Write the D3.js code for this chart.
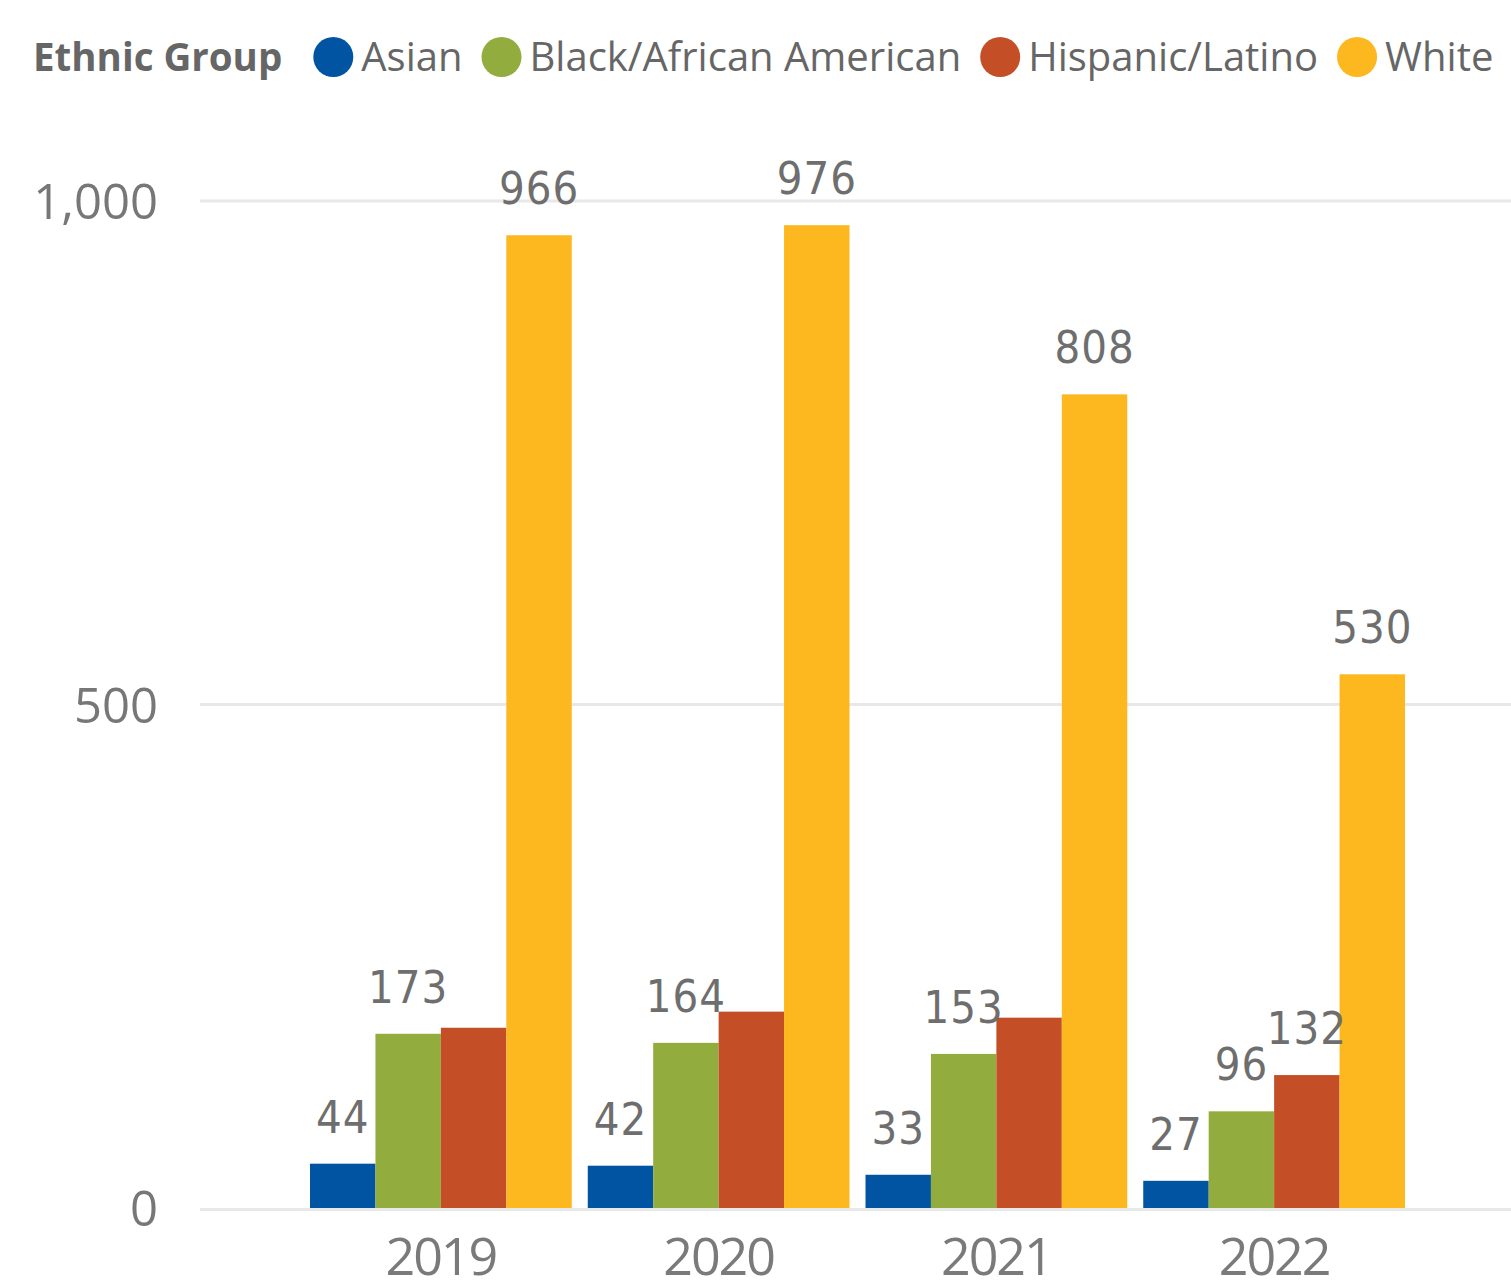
<!DOCTYPE html>
<html>
<head>
<meta charset="utf-8">
<script src="https://cdn.jsdelivr.net/npm/d3@7"></script>
<style>
  html, body { margin: 0; padding: 0; background: #fff; }
  svg { display: block; }
</style>
</head>
<body>
<svg id="chart" width="1511" height="1287"></svg>
<script>
// Yearly counts by ethnic group
const years = ["2019", "2020", "2021", "2022"];
const groups = ["Asian", "Black/African American", "Hispanic/Latino", "White"];
const asian = [44, 42, 33, 27];
const black = [173, 164, 153, 96];
const hispanic = [179, 195, 189, 132];
const white = [966, 976, 808, 530];
// Value labels suppressed where they would collide with a neighbour
const hiddenLabels = [["Hispanic/Latino", "2019"], ["Hispanic/Latino", "2020"], ["Hispanic/Latino", "2021"]];
const yTicks = [0, 500, 1000];
const colors = ["#0054A2", "#93AC3E", "#C44F27", "#FDB71F"];

const seriesValues = [asian, black, hispanic, white];
const rows = [];
years.forEach((yr, i) => {
  groups.forEach((g, j) => rows.push({ year: yr, group: g, value: seriesValues[j][i] }));
});
const isHidden = d => hiddenLabels.some(([g, y]) => g === d.group && y === d.year);

const svg = d3.select("#chart");
const numFont = "'DejaVu Sans Condensed', 'Liberation Sans Narrow', sans-serif";
const uiFont = "'Open Sans', 'Noto Sans', sans-serif";

const y = d3.scaleLinear().domain([0, 1000]).range([1208, 201]);
const x0 = d3.scaleBand().domain(years).range([302, 1413]).paddingInner(0.0576).paddingOuter(0.0288);
const x1 = d3.scaleBand().domain(groups).range([0, x0.bandwidth()]);
const color = d3.scaleOrdinal().domain(groups).range(colors);

// Value axis labels
const yAxis = d3.axisLeft(y).tickValues(yTicks).tickFormat(d3.format(",")).tickSize(0).tickPadding(0);
const gy = svg.append("g").attr("transform", "translate(158,0)").call(yAxis);
gy.select(".domain").remove();
gy.selectAll("text")
  .attr("x", 0)
  .attr("dy", "0.36em")
  .attr("text-anchor", "end")
  .style("font-family", uiFont)
  .style("font-size", "49px")
  .style("fill", "#777777");

// Horizontal gridlines
svg.append("g").selectAll("line")
  .data(yTicks)
  .join("line")
  .attr("x1", 200).attr("x2", 1511)
  .attr("y1", d => y(d) + (d === 0 ? 1.5 : 0)).attr("y2", d => y(d) + (d === 0 ? 1.5 : 0))
  .attr("stroke", "#e8e8e8")
  .attr("stroke-width", 3);

// Bars
svg.append("g").selectAll("rect")
  .data(rows)
  .join("rect")
  .attr("x", d => x0(d.year) + x1(d.group))
  .attr("width", x1.bandwidth())
  .attr("y", d => y(d.value))
  .attr("height", d => y(0) - y(d.value))
  .attr("fill", d => color(d.group));

// Value labels above bars
svg.append("g").selectAll("text")
  .data(rows.filter(d => !isHidden(d)))
  .join("text")
  .attr("x", d => x0(d.year) + x1(d.group) + x1.bandwidth() / 2)
  .attr("y", d => y(d.value) - 31)
  .attr("text-anchor", "middle")
  .style("font-family", numFont)
  .style("font-size", "45px")
  .style("letter-spacing", "1px")
  .style("fill", "#6e6e6e")
  .text(d => d3.format(",")(d.value));

// Category axis
const xAxis = d3.axisBottom(x0).tickSize(0).tickPadding(0);
const gx = svg.append("g").attr("transform", "translate(0,1275)").call(xAxis);
gx.select(".domain").remove();
gx.selectAll("text")
  .attr("y", 0).attr("dy", 0)
  .style("font-family", uiFont)
  .style("font-size", "52px")
  .style("letter-spacing", "-2px")
  .style("fill", "#7a7a7a");

// Legend
const legend = svg.append("g");
const title = legend.append("text")
  .attr("x", 33).attr("y", 71)
  .style("font-family", uiFont)
  .style("font-size", "38.5px")
  .style("font-weight", "bold")
  .style("fill", "#666666")
  .text("Ethnic Group");
let cx = 33 + title.node().getComputedTextLength() + 31;
groups.forEach(g => {
  legend.append("circle")
    .attr("cx", cx + 20).attr("cy", 57).attr("r", 20)
    .attr("fill", color(g));
  const t = legend.append("text")
    .attr("x", cx + 48).attr("y", 71)
    .style("font-family", uiFont)
    .style("font-size", "40px")
    .style("fill", "#666666")
    .text(g);
  cx = cx + 48 + t.node().getComputedTextLength() + 19;
});
</script>
</body>
</html>
